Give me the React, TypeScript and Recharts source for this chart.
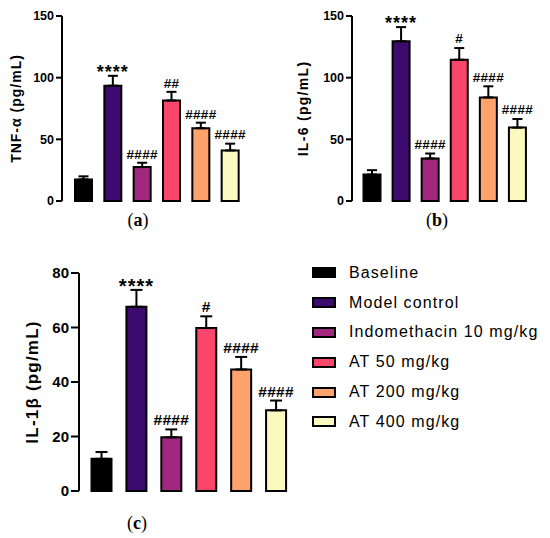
import { BarChart, Bar, XAxis, YAxis, Cell, ErrorBar, LabelList } from "recharts"

const groups = [
    "Baseline",
    "Model control",
    "Indomethacin 10 mg/kg",
    "AT 50 mg/kg",
    "AT 200 mg/kg",
    "AT 400 mg/kg",
]
const colors = ["#000000", "#3D0B6E", "#A1277F", "#FA466B", "#FEA36B", "#FBF9BF"]

const tnfMean = [17.5, 93.5, 27.5, 81.5, 59, 41]
const tnfSem = [2.5, 8, 3.5, 7, 4.5, 5.5]
const tnfMarks = ["", "****", "####", "##", "####", "####"]
const tnfTicks = [0, 50, 100, 150]

const il6Mean = [21.5, 129.5, 34.5, 114.5, 84, 59.5]
const il6Sem = [3.5, 11.5, 4, 9.5, 9, 7]
const il6Marks = ["", "****", "####", "#", "####", "####"]
const il6Ticks = [0, 50, 100, 150]

const il1bMean = [11.8, 67.6, 19.7, 59.8, 44.6, 29.6]
const il1bSem = [2.5, 6.2, 2.9, 4.3, 4.6, 3.6]
const il1bMarks = ["", "****", "####", "#", "####", "####"]
const il1bTicks = [0, 20, 40, 60, 80]

const SANS = "'Liberation Sans', Arial, sans-serif"
const SERIF = "'Liberation Serif', 'Times New Roman', serif"

type Row = { group: string; mean: number; sem: number[]; up: number; mark: string }

function makeRows(mean: number[], sem: number[], marks: string[]): Row[] {
    return groups.map((g, i) => ({ group: g, mean: mean[i], sem: [0, sem[i]], up: sem[i], mark: marks[i] }))
}

type PanelProps = {
    rows: Row[]
    ticks: number[]
    label: string
    left: number
    top: number
    width: number
    height: number
    margin: { top: number; right: number; bottom: number; left: number }
    yWidth: number
    pad: { left: number; right: number }
    tickFont: number
    tickSize: number
    labelFont: number
    labelSpacing: number
    labelX: number
    barSize: number
    cap: number
    markFont: number
    starFont: number
    markLift: number
}

function Panel(p: PanelProps) {
    const markContent = (props: any) => {
        const vb = props.viewBox || props
        const i = props.index
        const row = p.rows[i]
        if (!row || !row.mark) return null
        const { x, y, width, height } = vb
        const errPx = row.mean ? (row.up * height) / row.mean : 0
        const star = row.mark.startsWith("*")
        const fs = star ? p.starFont : p.markFont
        // keep the glyph centre a fixed distance above the cap
        const gap = star ? p.markLift - 0.57 * fs : p.markLift + 1 - 0.358 * fs
        return (
            <text
                x={x + width / 2}
                y={y - errPx - gap}
                textAnchor="middle"
                fontFamily={SANS}
                fontWeight="bold"
                fontSize={fs}
                letterSpacing={star ? 1 : 0.3}
                fill="#000"
            >
                {row.mark}
            </text>
        )
    }

    const axisLabel = (props: any) => {
        const vb = props.viewBox
        const cx = p.labelX
        const cy = vb.y + vb.height / 2
        return (
            <text
                x={cx}
                y={cy}
                transform={`rotate(-90 ${cx} ${cy})`}
                textAnchor="middle"
                dominantBaseline="central"
                fontFamily={SANS}
                fontWeight="bold"
                fontSize={p.labelFont}
                letterSpacing={p.labelSpacing}
                fill="#000"
            >
                {p.label}
            </text>
        )
    }

    return (
        <div style={{ position: "absolute", left: p.left, top: p.top }}>
            <BarChart width={p.width} height={p.height} data={p.rows} margin={p.margin} barCategoryGap={0}>
                <XAxis
                    dataKey="group"
                    tick={false}
                    tickLine={false}
                    height={0}
                    padding={p.pad}
                    axisLine={{ stroke: "#000", strokeWidth: 2 }}
                />
                <YAxis
                    domain={[0, p.ticks[p.ticks.length - 1]]}
                    ticks={p.ticks}
                    interval={0}
                    width={p.yWidth}
                    tickSize={p.tickSize}
                    tickMargin={2}
                    tick={{ fontSize: p.tickFont, fontWeight: "bold", fill: "#000", fontFamily: SANS }}
                    tickLine={{ stroke: "#000", strokeWidth: 2 }}
                    axisLine={{ stroke: "#000", strokeWidth: 2 }}
                    label={axisLabel}
                />
                <Bar dataKey="mean" barSize={p.barSize} stroke="#000" strokeWidth={2} isAnimationActive={false}>
                    {p.rows.map((r, i) => (
                        <Cell key={r.group} fill={colors[i]} />
                    ))}
                    <ErrorBar
                        dataKey="sem"
                        direction="y"
                        width={p.cap}
                        stroke="#000"
                        strokeWidth={2}
                        isAnimationActive={false}
                    />
                    <LabelList dataKey="mean" content={markContent} />
                </Bar>
            </BarChart>
        </div>
    )
}

function PanelTag({ x, y, letter }: { x: number; y: number; letter: string }) {
    return (
        <div
            style={{
                position: "absolute",
                left: x - 30,
                top: y - 11,
                width: 60,
                height: 22,
                lineHeight: "22px",
                textAlign: "center",
                fontFamily: SERIF,
                fontSize: 18,
                color: "#000",
            }}
        >
            (<b>{letter}</b>)
        </div>
    )
}

export default function App() {
    const tnf = makeRows(tnfMean, tnfSem, tnfMarks)
    const il6 = makeRows(il6Mean, il6Sem, il6Marks)
    const il1b = makeRows(il1bMean, il1bSem, il1bMarks)

    return (
        <div style={{ position: "absolute", left: 0, top: 0, width: 550, height: 538, background: "#fff", overflow: "hidden" }}>
            <Panel
                rows={tnf}
                ticks={tnfTicks}
                label="TNF-α (pg/mL)"
                left={0}
                top={0}
                width={260}
                height={210}
                margin={{ top: 16, right: 10, bottom: 9, left: 0 }}
                yWidth={62}
                pad={{ left: 7, right: 5 }}
                tickFont={12.5}
                tickSize={6}
                labelFont={14}
                labelSpacing={1}
                labelX={16}
                barSize={17}
                cap={5}
                markFont={13.5}
                starFont={18}
                markLift={8}
            />
            <Panel
                rows={il6}
                ticks={il6Ticks}
                label="IL-6 (pg/mL)"
                left={290}
                top={0}
                width={260}
                height={210}
                margin={{ top: 16, right: 12, bottom: 9, left: 0 }}
                yWidth={62}
                pad={{ left: 5.5, right: 6 }}
                tickFont={12.5}
                tickSize={6}
                labelFont={14}
                labelSpacing={1.3}
                labelX={13}
                barSize={17}
                cap={5}
                markFont={13.5}
                starFont={18}
                markLift={8.5}
            />
            <Panel
                rows={il1b}
                ticks={il1bTicks}
                label="IL-1β (pg/mL)"
                left={0}
                top={250}
                width={310}
                height={250}
                margin={{ top: 23, right: 10, bottom: 9, left: 0 }}
                yWidth={79}
                pad={{ left: 5.5, right: 6 }}
                tickFont={15}
                tickSize={8}
                labelFont={17}
                labelSpacing={1.2}
                labelX={32}
                barSize={20}
                cap={6}
                markFont={15.5}
                starFont={20}
                markLift={8.5}
            />
            <PanelTag x={138} y={220} letter="a" />
            <PanelTag x={437} y={220} letter="b" />
            <PanelTag x={137} y={523} letter="c" />
            <div style={{ position: "absolute", left: 312, top: 258, fontFamily: SANS, color: "#000" }}>
                {groups.map((g, i) => (
                    <div key={g} style={{ display: "flex", alignItems: "center", height: 29.8 }}>
                        <span
                            style={{
                                display: "inline-block",
                                width: 24,
                                height: 11,
                                boxSizing: "border-box",
                                border: "2.5px solid #000",
                                background: colors[i],
                                marginRight: 13,
                            }}
                        />
                        <span style={{ fontSize: 16, letterSpacing: 1.1, whiteSpace: "nowrap" }}>{g}</span>
                    </div>
                ))}
            </div>
        </div>
    )
}
